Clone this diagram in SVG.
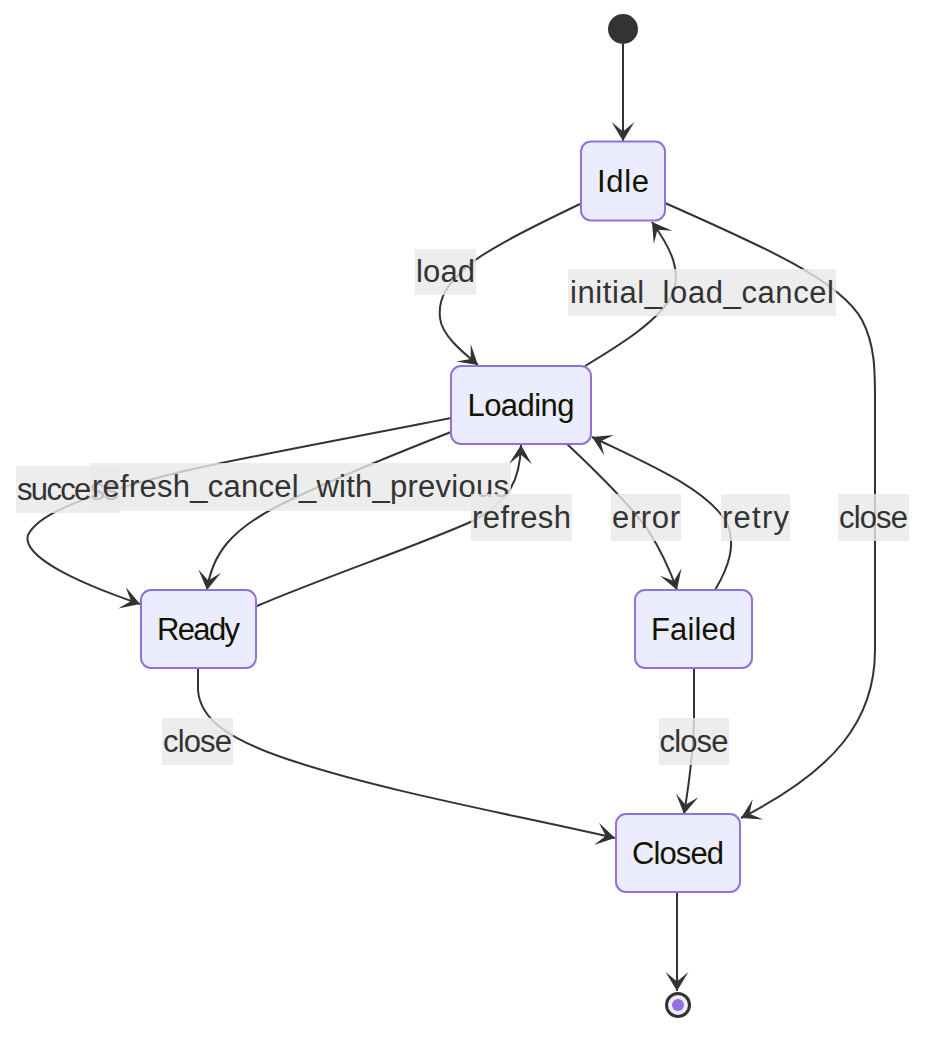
<svg xmlns="http://www.w3.org/2000/svg" width="942" height="1052" viewBox="0 0 942 1052">
<style>
.node rect{fill:#ECECFF;stroke:#9370DB;stroke-width:2}
.ntext{font-family:"Liberation Sans",Arial,sans-serif;font-size:31px;fill:#131300;text-anchor:middle}
.edge{fill:none;stroke:#333;stroke-width:2}
.lbg{fill:#e8e8e8;fill-opacity:0.8}
.ltext{font-family:"Liberation Sans",Arial,sans-serif;font-size:31px;fill:#333;text-anchor:middle}
</style>
<defs>
<marker id="arrow" markerUnits="userSpaceOnUse" viewBox="0 0 20 14" refX="19" refY="7" markerWidth="38" markerHeight="26.6" orient="auto">
<path d="M19,7 L9,13 L14,7 L9,1 Z" fill="#333"/>
</marker>
</defs>
<rect width="942" height="1052" fill="#fff"/>
<g id="connectors">
<path class="edge" marker-end="url(#arrow)" d="M623,44 L623,141"/>
<path class="edge" marker-end="url(#arrow)" d="M580,204 C530,228 490,248 470,264 C445,285 438,300 440,318 C442,335 460,350 478,365"/>
<path class="edge" marker-end="url(#arrow)" d="M585,366 C620,345 660,320 672,295 C682,272 672,250 652,222"/>
<path class="edge" marker-end="url(#arrow)" d="M665,203 C760,245 840,280 862,320 C875,345 875,370 875,400 L875,650 C875,720 835,770 741,818"/>
<path class="edge" marker-end="url(#arrow)" d="M451,418 C350,438 240,458 180,472 C100,492 40,510 28,535 C22,555 70,580 140,604"/>
<path class="edge" marker-end="url(#arrow)" d="M451,432 C400,452 330,480 280,505 C230,530 212,555 207,590"/>
<path class="edge" marker-end="url(#arrow)" d="M257,606 C330,575 420,545 475,520 C510,500 520,480 521,445"/>
<path class="edge" marker-end="url(#arrow)" d="M567,444 C600,475 630,505 648,530 C662,552 670,570 677,590"/>
<path class="edge" marker-end="url(#arrow)" d="M715,590 C730,565 735,545 728,525 C710,490 650,465 592,437"/>
<path class="edge" marker-end="url(#arrow)" d="M198,668 L198,690 C200,720 230,740 290,760 C380,790 500,812 615,838"/>
<path class="edge" marker-end="url(#arrow)" d="M694,668 L694,720 C693,760 688,790 684,814"/>
<path class="edge" marker-end="url(#arrow)" d="M677,892 L677,991"/>
</g>
<g id="edge-labels">
<g><rect class="lbg" x="415" y="249" width="61" height="46"/><text class="ltext" x="445.5" y="282" textLength="59">load</text></g>
<g><rect class="lbg" x="568" y="269" width="268" height="47"/><text class="ltext" x="702" y="303" textLength="264">initial_load_cancel</text></g>
<g><rect class="lbg" x="16" y="466" width="104" height="47"/><text class="ltext" x="68" y="500" textLength="102">success</text></g>
<g><rect class="lbg" x="90" y="463" width="421" height="48"/><text class="ltext" x="300.5" y="497" textLength="417">refresh_cancel_with_previous</text></g>
<g><rect class="lbg" x="471" y="494" width="101" height="47"/><text class="ltext" x="521.5" y="528" textLength="99">refresh</text></g>
<g><rect class="lbg" x="611" y="494" width="70" height="47"/><text class="ltext" x="646" y="528" textLength="68">error</text></g>
<g><rect class="lbg" x="721" y="494" width="69" height="47"/><text class="ltext" x="755.5" y="528" textLength="67">retry</text></g>
<g><rect class="lbg" x="838" y="494" width="71" height="47"/><text class="ltext" x="873.5" y="528" textLength="69">close</text></g>
<g><rect class="lbg" x="162" y="718" width="71" height="47"/><text class="ltext" x="197.5" y="752" textLength="69">close</text></g>
<g><rect class="lbg" x="659" y="718" width="70" height="47"/><text class="ltext" x="694" y="752" textLength="69">close</text></g>
</g>
<g id="start"><circle cx="623" cy="29" r="15" fill="#333"/></g>
<g id="Idle" class="node"><rect x="581" y="141.5" width="84" height="79" rx="10"/><text class="ntext" x="623" y="192" textLength="52">Idle</text></g>
<g id="Loading" class="node"><rect x="451" y="366" width="140" height="78" rx="10"/><text class="ntext" x="521" y="416" textLength="107">Loading</text></g>
<g id="Ready" class="node"><rect x="141" y="590" width="115" height="78" rx="10"/><text class="ntext" x="198.5" y="640" textLength="83">Ready</text></g>
<g id="Failed" class="node"><rect x="635" y="590" width="117" height="78" rx="10"/><text class="ntext" x="693.5" y="640" textLength="85">Failed</text></g>
<g id="Closed" class="node"><rect x="616" y="814" width="124" height="78" rx="10"/><text class="ntext" x="678" y="864" textLength="92">Closed</text></g>
<g id="end"><circle cx="678" cy="1005" r="11.5" fill="#ECECFF" stroke="#333" stroke-width="3"/><circle cx="678" cy="1005" r="6" fill="#9370DB"/></g>
</svg>
